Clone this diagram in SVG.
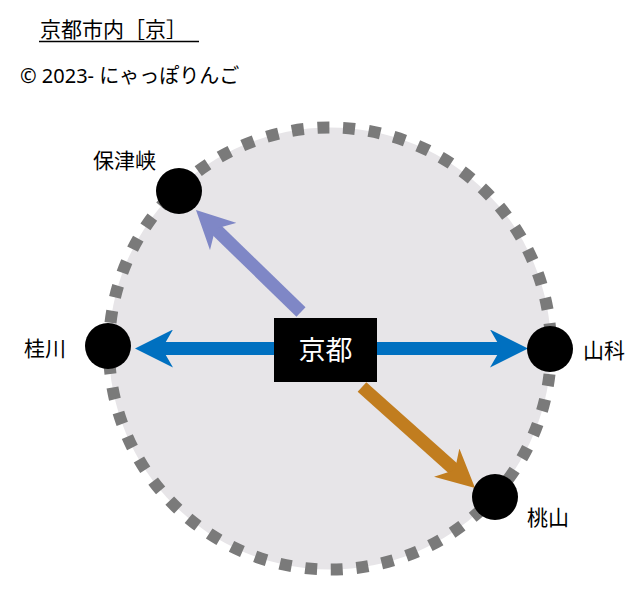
<svg xmlns="http://www.w3.org/2000/svg" width="640" height="613" viewBox="0 0 640 613">
<style>
.lbl{font-family:"Noto Sans CJK JP","Noto Sans",sans-serif;font-size:21px;fill:#000}
.node{fill:#000}
.shaft{stroke-width:13;fill:none}
</style>
<defs>
<marker id="hb" markerUnits="userSpaceOnUse" viewBox="0 0 38 38" markerWidth="38" markerHeight="38" refX="13" refY="19" orient="auto"><path d="M0,0 L38,19 L0,38 L11,19 Z" fill="#0070c0"/></marker>
<marker id="hp" markerUnits="userSpaceOnUse" viewBox="0 0 38 38" markerWidth="38" markerHeight="38" refX="13" refY="19" orient="auto"><path d="M0,0 L38,19 L0,38 L11,19 Z" fill="#7f87c6"/></marker>
<marker id="ho" markerUnits="userSpaceOnUse" viewBox="0 0 38 38" markerWidth="38" markerHeight="38" refX="13" refY="19" orient="auto"><path d="M0,0 L38,19 L0,38 L11,19 Z" fill="#c17d1f"/></marker>
</defs>
<rect width="640" height="613" fill="#fff"/>
<g id="title">
<text x="40" y="37" style="font-family:'Noto Sans CJK JP','Noto Sans',sans-serif;font-size:21px">京都市内［京］</text>
<line x1="39" y1="41.5" x2="199" y2="41.5" stroke="#000" stroke-width="1.3"/>
<text x="20" y="83" style="font-family:'Noto Sans','Noto Sans CJK JP',sans-serif;font-size:20px">© 2023- にゃっぽりんご</text>
</g>
<g id="area">
<circle cx="330" cy="348.5" r="221" fill="#e7e5e8"/>
<circle cx="330" cy="348.5" r="221" fill="none" stroke="#7a7a7a" stroke-width="12" stroke-dasharray="12 13.71"/>
</g>
<g id="connectors">
<line class="shaft" x1="377" y1="348.5" x2="503" y2="348.5" stroke="#0070c0" marker-end="url(#hb)"/>
<line class="shaft" x1="274" y1="348.5" x2="160" y2="348.5" stroke="#0070c0" marker-end="url(#hb)"/>
<line class="shaft" x1="301" y1="312" x2="213.9" y2="227.4" stroke="#7f87c6" marker-end="url(#hp)"/>
<line class="shaft" x1="362" y1="387" x2="456.4" y2="471.3" stroke="#c17d1f" marker-end="url(#ho)"/>
</g>
<g id="kyoto">
<rect x="274" y="318" width="103" height="64" fill="#000"/>
<text x="325.5" y="360" text-anchor="middle" style="font-family:'Noto Sans CJK JP','Noto Sans',sans-serif;font-size:27px;fill:#fff">京都</text>
</g>
<g id="hozukyo">
<circle class="node" cx="179" cy="191" r="23"/>
<text class="lbl" x="93" y="168">保津峡</text>
</g>
<g id="katsuragawa">
<circle class="node" cx="108" cy="346" r="23"/>
<text class="lbl" x="24" y="356">桂川</text>
</g>
<g id="yamashina">
<circle class="node" cx="550" cy="349" r="23"/>
<text class="lbl" x="583" y="358">山科</text>
</g>
<g id="momoyama">
<circle class="node" cx="495" cy="497" r="23"/>
<text class="lbl" x="527" y="525">桃山</text>
</g>
</svg>
